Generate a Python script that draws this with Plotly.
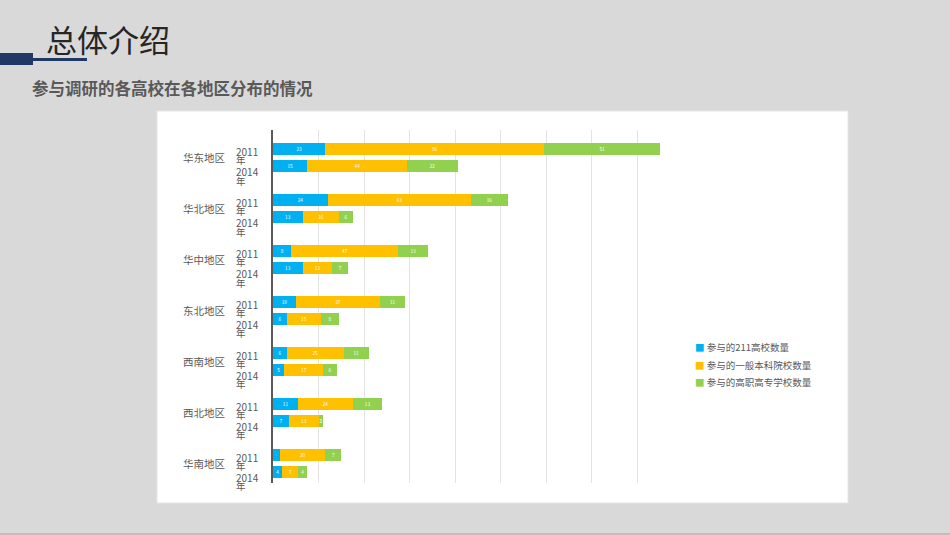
import plotly.graph_objects as go

# data
regions = ["华东地区", "华北地区", "华中地区", "东北地区", "西南地区", "西北地区", "华南地区"]
years = ["2011", "2014"]
series_names = ["参与的211高校数量", "参与的一般本科院校数量", "参与的高职高专学校数量"]
colors = ["#00B0F0", "#FFC000", "#92D050"]

# values per region, ordered [2011, 2014]
n211 = [[23, 15], [24, 13], [8, 13], [10, 6], [6, 5], [11, 7], [3, 4]]
nbenke = [[96, 44], [63, 16], [47, 13], [37, 15], [25, 17], [24, 13], [20, 7]]
ngaozhi = [[51, 22], [16, 6], [13, 7], [11, 8], [11, 6], [13, 2], [7, 4]]

W, H = 950, 535
FONT = "Noto Sans CJK SC"

# each region takes 3 slots: 2011 bar, 2014 bar, empty gap
pos = []
for i in range(len(regions)):
    for j in range(len(years)):
        pos.append(i * 3 + j)


def flat(v):
    return [x for pair in v for x in pair]


fig = go.Figure()
for name, vals, col in zip(series_names, [n211, nbenke, ngaozhi], colors):
    fig.add_trace(go.Bar(
        y=pos, x=flat(vals), name=name, orientation="h",
        marker=dict(color=col, line=dict(width=0)),
        width=0.74,
        text=flat(vals), textposition="inside", insidetextanchor="middle",
        textangle=0,
        textfont=dict(size=5, color="white"),
        showlegend=False,
    ))

fig.update_layout(
    barmode="stack",
    width=W, height=H,
    margin=dict(l=0, r=0, t=0, b=0),
    paper_bgcolor="#D9D9D9",
    plot_bgcolor="rgba(0,0,0,0)",
    font=dict(family=FONT, color="#595959"),
)
fig.update_xaxes(
    domain=[273 / W, 683 / W], range=[0, 180], dtick=20,
    showgrid=True, gridcolor="#E3E3E3", gridwidth=1,
    showticklabels=False, zeroline=False, showline=False,
)
fig.update_yaxes(
    domain=[1 - 483 / H, 1 - 130 / H], range=[19.65, -1.12],
    showgrid=False, showticklabels=False, zeroline=False,
    showline=True, linecolor="#595959", linewidth=2,
)

# white panel behind the chart
fig.add_shape(type="rect", xref="paper", yref="paper",
              x0=157 / W, x1=848 / W, y0=1 - 503 / H, y1=1 - 111 / H,
              fillcolor="white", line=dict(color="#E6E6E6", width=1), layer="below")
# navy accent under the title
fig.add_shape(type="rect", xref="paper", yref="paper",
              x0=0, x1=33 / W, y0=1 - 65 / H, y1=1 - 53 / H,
              fillcolor="#1F3864", line=dict(width=0))
fig.add_shape(type="rect", xref="paper", yref="paper",
              x0=33 / W, x1=87 / W, y0=1 - 61 / H, y1=1 - 58 / H,
              fillcolor="#1F3864", line=dict(width=0))
# bottom rule
fig.add_shape(type="rect", xref="paper", yref="paper",
              x0=0, x1=1, y0=0, y1=2 / H,
              fillcolor="#BFBFBF", line=dict(width=0))

fig.add_annotation(text="总体介绍", xref="paper", yref="paper",
                   x=44 / W, y=1 - 39 / H, xanchor="left", yanchor="middle",
                   showarrow=False, font=dict(size=31, color="#262626", family=FONT))
fig.add_annotation(text="<b>参与调研的各高校在各地区分布的情况</b>", xref="paper", yref="paper",
                   x=30 / W, y=1 - 88 / H, xanchor="left", yanchor="middle",
                   showarrow=False, font=dict(size=16.5, color="#595959", family=FONT))

# category labels: region name + stacked year labels
year_shift = {"2011": (-2.5, -11), "2014": (-5.5, -14.5)}
for i, reg in enumerate(regions):
    fig.add_annotation(text=reg, xref="paper", yref="y", x=181 / W, y=i * 3 + 0.5,
                       xanchor="left", yanchor="middle", showarrow=False,
                       font=dict(size=10.5, color="#595959"))
    for j, yr in enumerate(years):
        s1, s2 = year_shift[yr]
        fig.add_annotation(text=yr, xref="paper", yref="y", x=234 / W, y=i * 3 + j,
                           yshift=s1, xanchor="left", yanchor="middle", showarrow=False,
                           font=dict(size=10, color="#595959"))
        fig.add_annotation(text="年", xref="paper", yref="y", x=234 / W, y=i * 3 + j,
                           yshift=s2, xanchor="left", yanchor="middle", showarrow=False,
                           font=dict(size=9.5, color="#595959"))

# legend drawn as coloured squares + text
for k, (name, col) in enumerate(zip(series_names, colors)):
    fig.add_annotation(
        text=f"<span style='color:{col}'>■</span> {name}",
        xref="paper", yref="paper", x=693 / W, y=1 - (347 + k * 17.5) / H,
        xanchor="left", yanchor="middle", showarrow=False,
        font=dict(size=9.5, color="#595959"))

fig.write_html("out.html", config={"displayModeBar": False},
               post_script="document.body.style.margin='0';")
